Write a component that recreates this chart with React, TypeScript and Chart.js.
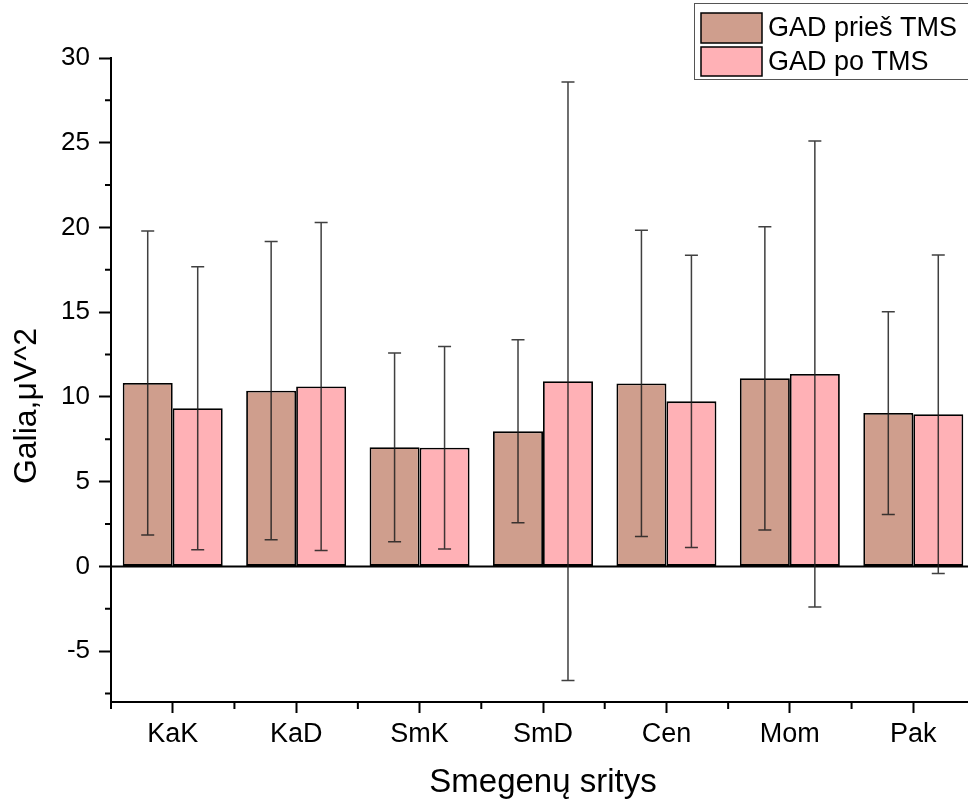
import React, { useEffect, useRef } from "react";
import { Chart, registerables } from "chart.js";

Chart.register(...registerables);

const categories = ["KaK", "KaD", "SmK", "SmD", "Cen", "Mom", "Pak"];
const beforeValues = [10.82, 10.37, 7.03, 7.97, 10.8, 11.1, 9.05];
const beforeErrors = [8.97, 8.8, 5.57, 5.4, 9.03, 8.95, 5.98];
const afterValues = [9.33, 10.62, 7.0, 10.93, 9.74, 11.35, 8.98];
const afterErrors = [8.35, 9.68, 5.97, 17.66, 8.62, 13.75, 9.4];
const yTicks = [-5, 0, 5, 10, 15, 20, 25, 30];
const yMinorTicks = [-7.5, -2.5, 2.5, 7.5, 12.5, 17.5, 22.5, 27.5];
const seriesLabels = ["GAD prieš TMS", "GAD po TMS"];
const seriesColors = ["rgb(207,158,141)", "rgb(255,177,182)"];
const xTitle = "Smegenų sritys";
const yTitle = "Galia,μV^2";

const FONT = "'Liberation Sans', Arial, sans-serif";

const extrasPlugin = {
  id: "extras",
  beforeDatasetsDraw(chart: any) {
    const { ctx, chartArea } = chart;
    const y = chart.scales.y;
    ctx.save();
    ctx.strokeStyle = "#000";
    ctx.lineWidth = 2;
    ctx.beginPath();
    const y0 = y.getPixelForValue(0);
    ctx.moveTo(chartArea.left, y0);
    ctx.lineTo(chartArea.right, y0);
    ctx.stroke();
    ctx.restore();
  },
  afterDatasetsDraw(chart: any) {
    const { ctx } = chart;
    const y = chart.scales.y;
    const errs = [beforeErrors, afterErrors];
    const vals = [beforeValues, afterValues];
    ctx.save();
    ctx.strokeStyle = "rgba(30,30,30,0.85)";
    ctx.lineWidth = 1.5;
    [0, 1].forEach((di) => {
      const meta = chart.getDatasetMeta(di);
      meta.data.forEach((bar: any, i: number) => {
        const x = bar.x;
        const top = y.getPixelForValue(vals[di][i] + errs[di][i]);
        const bot = y.getPixelForValue(vals[di][i] - errs[di][i]);
        ctx.beginPath();
        ctx.moveTo(x, top);
        ctx.lineTo(x, bot);
        ctx.moveTo(x - 6.5, top);
        ctx.lineTo(x + 6.5, top);
        ctx.moveTo(x - 6.5, bot);
        ctx.lineTo(x + 6.5, bot);
        ctx.stroke();
      });
    });
    ctx.restore();
  },
  afterDraw(chart: any) {
    const { ctx, chartArea } = chart;
    const y = chart.scales.y;
    ctx.save();
    ctx.strokeStyle = "#000";
    ctx.lineWidth = 2;
    ctx.beginPath();
    yMinorTicks.forEach((v) => {
      const py = y.getPixelForValue(v);
      ctx.moveTo(chartArea.left - 6, py);
      ctx.lineTo(chartArea.left, py);
    });
    const n = categories.length;
    const step = (chartArea.right - chartArea.left) / n;
    for (let k = 0; k <= n; k++) {
      const px = chartArea.left + k * step;
      ctx.moveTo(px, chartArea.bottom);
      ctx.lineTo(px, chartArea.bottom + 7);
    }
    ctx.stroke();

    // y title
    ctx.save();
    ctx.translate(27, 406);
    ctx.rotate(-Math.PI / 2);
    ctx.font = `32px ${FONT}`;
    ctx.fillStyle = "#000";
    ctx.textAlign = "center";
    ctx.textBaseline = "middle";
    ctx.fillText(yTitle, 0, 0);
    ctx.restore();

    // legend
    const lx = 694;
    const ly = 3;
    ctx.fillStyle = "#fff";
    ctx.fillRect(lx, ly, 400, 76);
    ctx.strokeStyle = "#555";
    ctx.lineWidth = 1;
    ctx.strokeRect(lx + 0.5, ly + 0.5, 400, 76);
    const rows = [
      { y: 13, h: 30 },
      { y: 47, h: 29 },
    ];
    ctx.font = `27px ${FONT}`;
    ctx.textBaseline = "middle";
    ctx.textAlign = "left";
    rows.forEach((r, i) => {
      ctx.fillStyle = seriesColors[i];
      ctx.fillRect(701, r.y, 61, r.h);
      ctx.strokeStyle = "#000";
      ctx.lineWidth = 1.5;
      ctx.strokeRect(701, r.y, 61, r.h);
      ctx.fillStyle = "#000";
      ctx.fillText(seriesLabels[i], 768, r.y + r.h / 2 + 1);
    });
    ctx.restore();
  },
};

export default function App() {
  const ref = useRef<HTMLCanvasElement | null>(null);
  useEffect(() => {
    document.body.style.margin = "0";
    if (!ref.current) return;
    const chart = new Chart(ref.current, {
      type: "bar",
      data: {
        labels: categories,
        datasets: [
          {
            label: seriesLabels[0],
            data: beforeValues,
            backgroundColor: seriesColors[0],
            borderColor: "#000",
            borderWidth: 1.8,
            borderSkipped: false,
          },
          {
            label: seriesLabels[1],
            data: afterValues,
            backgroundColor: seriesColors[1],
            borderColor: "#000",
            borderWidth: 1.8,
            borderSkipped: false,
          },
        ],
      },
      options: {
        animation: false,
        responsive: false,
        maintainAspectRatio: false,
        layout: { padding: { top: 58, right: 1, left: 0, bottom: 0 } },
        datasets: { bar: { categoryPercentage: 0.81, barPercentage: 1 } },
        plugins: { legend: { display: false }, tooltip: { enabled: false } },
        scales: {
          x: {
            offset: true,
            grid: {
              offset: false,
              drawOnChartArea: false,
              tickLength: 11,
              tickWidth: 2,
              tickColor: "#000",
            },
            border: { display: true, color: "#000", width: 2 },
            ticks: {
              color: "#000",
              font: { family: FONT, size: 27 },
              padding: 5,
              maxRotation: 0,
            },
            title: {
              display: true,
              text: xTitle,
              color: "#000",
              font: { family: FONT, size: 33 },
              padding: { top: 0, bottom: 0 },
            },
            afterFit(scale: any) {
              scale.height = 101;
            },
          },
          y: {
            min: -8,
            max: 30,
            afterBuildTicks(scale: any) {
              scale.ticks = yTicks.map((v) => ({ value: v }));
            },
            grid: {
              drawOnChartArea: false,
              tickLength: 12,
              tickWidth: 2,
              tickColor: "#000",
            },
            border: { display: true, color: "#000", width: 2 },
            ticks: {
              color: "#000",
              font: { family: FONT, size: 26 },
              padding: 9,
            },
            title: { display: false },
            afterFit(scale: any) {
              scale.width = 111;
            },
          },
        },
      },
      plugins: [extrasPlugin],
    });
    return () => chart.destroy();
  }, []);
  return (
    <div style={{ width: 968, height: 803, overflow: "hidden", position: "relative" }}>
      <canvas ref={ref} width={976} height={803} style={{ width: 976, height: 803, display: "block" }} />
    </div>
  );
}
